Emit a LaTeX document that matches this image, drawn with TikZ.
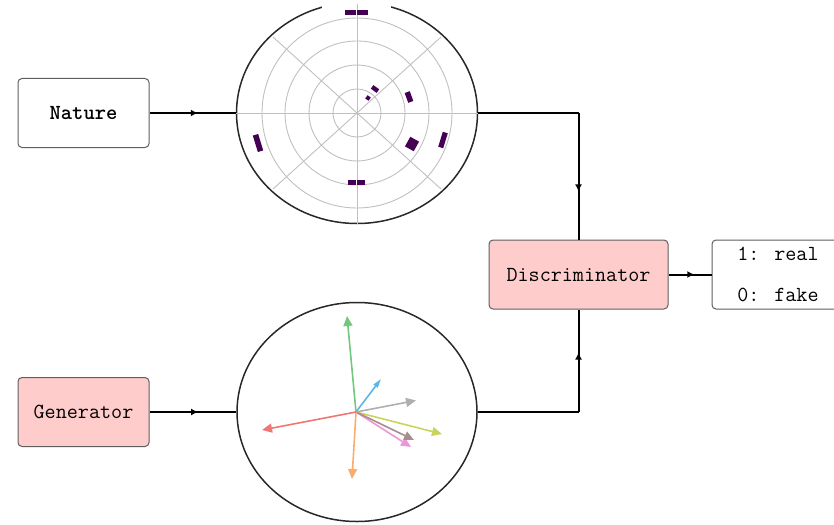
\documentclass[tikz,border=0pt]{standalone}
\usetikzlibrary{shapes.geometric,arrows.meta,decorations.markings}
\definecolor{pinkfill}{RGB}{255,204,204}
\definecolor{boxborder}{RGB}{95,95,95}
\definecolor{purp}{RGB}{68,1,84}
\definecolor{gridc}{RGB}{192,192,192}
\definecolor{circc}{RGB}{40,40,40}
\definecolor{vgreen}{RGB}{115,200,125}
\definecolor{vblue}{RGB}{95,180,230}
\definecolor{vgray}{RGB}{175,175,175}
\definecolor{volive}{RGB}{200,212,90}
\definecolor{vbrown}{RGB}{170,140,140}
\definecolor{vpink}{RGB}{235,150,215}
\definecolor{vorange}{RGB}{250,172,110}
\definecolor{vred}{RGB}{240,118,118}
\tikzset{
  box/.style={draw=boxborder, line width=1pt, rounded corners=4pt, fill=white,
    minimum width=131, minimum height=69, inner sep=0pt,
    font=\ttfamily\fontsize{21.5}{25}\selectfont},
  lbl/.style={inner sep=0pt, font=\ttfamily\fontsize{21.5}{25}\selectfont},
  conn/.style={line width=2pt, black},
  midarrow/.style={postaction={decorate}, decoration={markings,
    mark=at position #1 with {\arrow{Latex[length=7pt,width=7pt]}}}},
  circ/.style={ellipse, draw=circc, line width=1.5pt, inner sep=0pt},
  grid/.style={gridc, line width=0.9pt},
  vec/.style={line width=1.6pt, -{Triangle[length=10pt,width=9pt]}},
  bar/.style={fill=purp}
}
\begin{document}
\begin{tikzpicture}[x=1pt,y=-1pt]
\useasboundingbox (0,0) rectangle (834,524);
\clip (0,0) rectangle (834,524);

% left boxes
\node[box] (nature) at (83.5,113) {\bfseries Nature};
\node[box, fill=pinkfill] (gen) at (83.5,412) {Generator};

% circles
\node[circ, minimum width=241, minimum height=221] (polar) at (357,113) {};
\node[circ, minimum width=240, minimum height=219] (vecs) at (357,412) {};

% gap at top of the polar circle
\fill[white] (322,0) rectangle (391,10);

% polar grid
\draw[grid] (357,113) circle[radius=24pt];
\draw[grid] (357,113) circle[radius=48pt];
\draw[grid] (357,113) circle[radius=72pt];
\draw[grid] (357,113) circle[radius=95pt];
\draw[grid] (polar.west) -- (polar.east);
\draw[grid] (357,4) -- (polar.south);
\draw[grid] (273,37) -- (441,189);
\draw[grid] (441,37) -- (273,189);

% polar bars
\fill[bar, shift={(350.5,12.5)}, rotate=90] (-2.5,-5.6) rectangle (2.5,5.6);
\fill[bar, shift={(362.5,12.5)}, rotate=90] (-2.5,-5.6) rectangle (2.5,5.6);
\fill[bar, shift={(368,98)}, rotate=54] (-2,-2) rectangle (2,2);
\fill[bar, shift={(375,89)}, rotate=54] (-2.2,-3.6) rectangle (2.2,3.6);
\fill[bar, shift={(409,97)}, rotate=20] (-2.7,-5.2) rectangle (2.7,5.2);
\fill[bar, shift={(412,144)}, rotate=-29] (-5,-5.5) rectangle (5,5.5);
\fill[bar, shift={(443,140)}, rotate=-17] (-2.6,-7.8) rectangle (2.6,7.8);
\fill[bar, shift={(258,143)}, rotate=197] (-2.8,-8.6) rectangle (2.8,8.6);
\fill[bar, shift={(352.3,182.3)}, rotate=270] (-2.2,-4) rectangle (2.2,4);
\fill[bar, shift={(360.7,182.3)}, rotate=270] (-2.2,-4) rectangle (2.2,4);

% vectors
\coordinate (vc) at (356,412);
\coordinate (eg) at (347,316);
\coordinate (eb) at (381,379);
\coordinate (ey) at (416,400.5);
\coordinate (eo) at (442,434);
\coordinate (ebr) at (414,440);
\coordinate (ep) at (411,447);
\coordinate (eor) at (352,479);
\coordinate (er) at (262,430);
\draw[vec, vgreen] (vc) -- (eg);
\draw[vec, vblue, -{Triangle[length=9pt,width=5pt]}] (vc) -- (eb);
\draw[vec, vgray] (vc) -- (ey);
\draw[vec, volive] (vc) -- (eo);
\draw[vec, vpink] (vc) -- (ep);
\draw[vec, vbrown] (vc) -- (ebr);
\draw[vec, vorange] (vc) -- (eor);
\draw[vec, vred] (vc) -- (er);

% discriminator and output
\node[box, fill=pinkfill, minimum width=179] (disc) at (578.5,274.5) {Discriminator};
\node[box, minimum width=132] (out) at (778,274.5) {};
\node[lbl] (real) at (778,254) {1: real};
\node[lbl] (fake) at (778,295) {0: fake};

% connectors
\coordinate (tr) at (disc.north |- polar.east);
\coordinate (br) at (disc.south |- vecs.east);
\draw[conn, midarrow=0.56] (nature.east) -- (polar.west);
\draw[conn, midarrow=0.56] (gen.east) -- (vecs.west);
\draw[conn] (polar.east) -- (tr);
\draw[conn, midarrow=0.62] (tr) -- (disc.north);
\draw[conn] (vecs.east) -- (br);
\draw[conn, midarrow=0.58] (br) -- (disc.south);
\draw[conn, midarrow=0.6] (disc.east) -- (out.west);
\end{tikzpicture}
\end{document}
